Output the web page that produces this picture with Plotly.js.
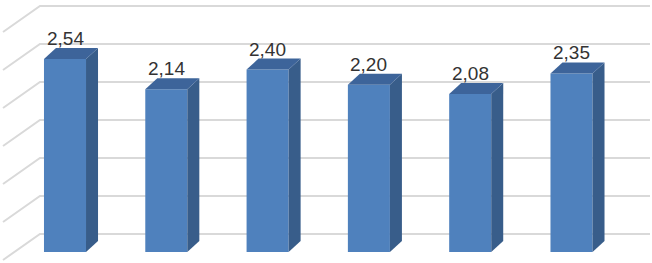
<!DOCTYPE html>
<html>
<head>
<meta charset="utf-8">
<script src="https://cdn.plot.ly/plotly-3.0.1.min.js"></script>
<style>html,body{margin:0;padding:0;background:#fff;}#chart{width:652px;height:263px;}</style>
</head>
<body>
<div id="chart"></div>
<script>
// ---- data ----
const categories = ['1', '2', '3', '4', '5', '6'];
const values = [2.54, 2.14, 2.40, 2.20, 2.08, 2.35];
const labels = values.map(v => v.toFixed(2).replace('.', ','));
const gridValues = [0, 0.5, 1, 1.5, 2, 2.5, 3];

// ---- layout constants (3D look) ----
const barWidth = 0.415;
const depthX = 0.1185, depthY = 0.145;     // bar depth offset
const wallX0 = -0.247, wallX1 = 5.775, wallDY = 0.237; // back wall
const diagX = -0.612, diagDY = -0.342;      // side wall lines

const shapes = [];
gridValues.forEach(g => {
  const y = g + wallDY;
  shapes.push({type: 'path', layer: 'below', xref: 'x', yref: 'y',
    path: `M ${diagX},${y + diagDY} L ${wallX0},${y} L ${wallX1},${y}`,
    line: {color: '#D9D9D9', width: 2}});
});
values.forEach((v, i) => {
  const l = i - barWidth / 2, r = i + barWidth / 2;
  shapes.push({type: 'path', layer: 'above', xref: 'x', yref: 'y',
    path: `M ${r},0 L ${r},${v} L ${r + depthX},${v + depthY} L ${r + depthX},${depthY} Z`,
    fillcolor: '#385D8A', line: {width: 0}});
  shapes.push({type: 'path', layer: 'above', xref: 'x', yref: 'y',
    path: `M ${l},${v} L ${r},${v} L ${r + depthX},${v + depthY} L ${l + depthX},${v + depthY} Z`,
    fillcolor: '#3D649A', line: {width: 0}});
});

const annotations = values.map((v, i) => ({
  x: i, y: v, xref: 'x', yref: 'y', text: labels[i], showarrow: false,
  yanchor: 'bottom', xanchor: 'center', yshift: 8, xshift: 0,
  font: {family: 'Liberation Sans, Arial, sans-serif', size: 19, color: '#333333'}
}));

const trace = {
  type: 'bar', x: categories.map((c, i) => i), y: values, width: barWidth,
  marker: {color: '#4F81BD', line: {width: 0}}, hoverinfo: 'skip', cliponaxis: false
};

const layout = {
  width: 652, height: 263, margin: {l: 0, r: 0, t: 0, b: 0},
  paper_bgcolor: '#ffffff', plot_bgcolor: '#ffffff', showlegend: false,
  xaxis: {range: [-0.6417, 5.7947], showgrid: false, zeroline: false, showticklabels: false, ticks: '', showline: false,
          tickvals: categories.map((c, i) => i), ticktext: categories},
  yaxis: {range: [-0.1447, 3.3158], showgrid: false, zeroline: false, showticklabels: false, ticks: '', showline: false},
  shapes: shapes, annotations: annotations
};

Plotly.newPlot('chart', [trace], layout, {staticPlot: true, displayModeBar: false});
</script>
</body>
</html>
